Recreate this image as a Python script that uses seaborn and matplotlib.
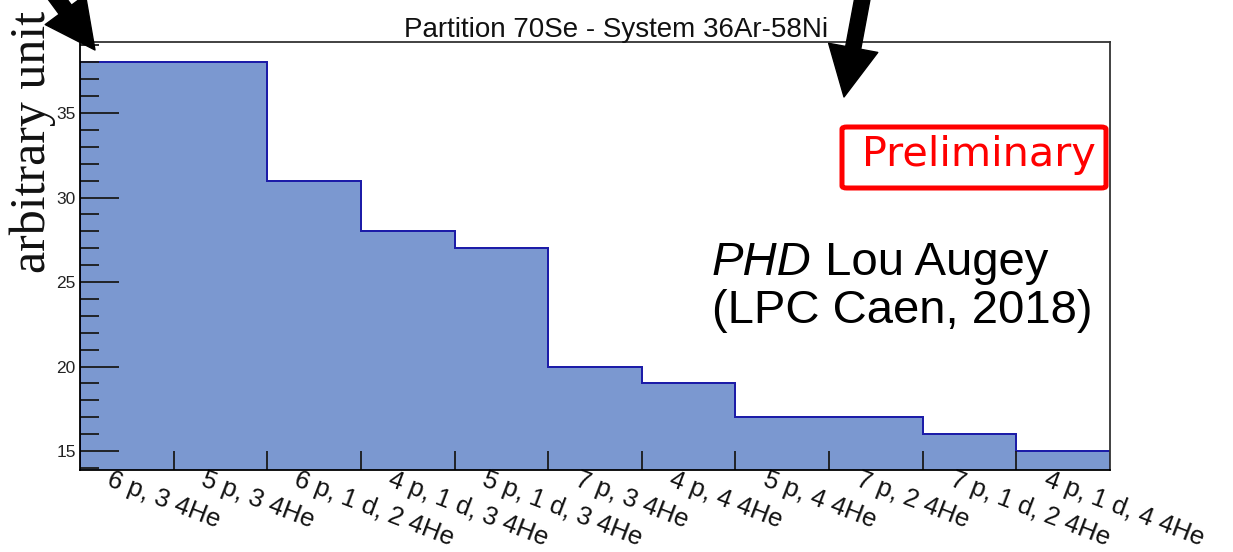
import numpy as np
import pandas as pd
import matplotlib
matplotlib.use("Agg")
import matplotlib.pyplot as plt
from matplotlib.patches import FancyBboxPatch
from matplotlib.ticker import MultipleLocator, FixedLocator, NullFormatter
import seaborn as sns

# Partition yields, one bin per partition
partitions = [
    "6 p, 3 4He", "5 p, 3 4He", "6 p, 1 d, 2 4He", "4 p, 1 d, 3 4He",
    "5 p, 1 d, 3 4He", "7 p, 3 4He", "4 p, 4 4He", "5 p, 4 4He",
    "7 p, 2 4He", "7 p, 1 d, 2 4He", "4 p, 1 d, 4 4He",
]
counts = [38, 38, 31, 28, 27, 20, 19, 17, 17, 16, 15]

title = "Partition 70Se - System 36Ar-58Ni"
ylabel = "arbitrary unit"

W, H = 1233, 552
sns.set_theme(style="ticks")
plt.rcParams["font.family"] = ["Liberation Sans", "DejaVu Sans"]

fig = plt.figure(figsize=(W / 100, H / 100), dpi=100)
fig.patch.set_facecolor("white")
L, R, T, B = 80, 1110, 42, 470
ax = fig.add_axes([L / W, 1 - B / H, (R - L) / W, (B - T) / H])
ax.set_facecolor("white")
ax.set_axisbelow(False)

n = len(partitions)
ymin, ymax = 13.88, 39.2
df = pd.DataFrame({"bin": np.arange(n) + 0.5, "count": counts})
edges = np.arange(n + 1)
sns.histplot(data=df, x="bin", weights="count", binwidth=1, binrange=(0, n),
             element="step", fill=True, color="#7b98d0", alpha=1.0,
             edgecolor="#1c1ca8", linewidth=1.4, ax=ax, legend=False)
# step outline on top of the fill
ax.stairs(counts, edges, color="#1c1ca8", linewidth=1.4, zorder=2)

ax.set_xlim(0, n)
ax.set_ylim(ymin, ymax)
ax.set_xlabel("")
ax.set_ylabel("")

for s in ax.spines.values():
    s.set_visible(True)
    s.set_color("black")
    s.set_linewidth(1.3)
    s.set_zorder(5)
ax.spines["top"].set_color("#333333")
ax.spines["right"].set_color("#333333")

# y ticks: inward, ROOT style
ax.yaxis.set_major_locator(MultipleLocator(5))
ax.yaxis.set_minor_locator(MultipleLocator(1))
ax.tick_params(axis="y", which="major", direction="in", length=28, width=1.3,
               color="#1a1a1a", labelsize=12.5, labelcolor="#222222", pad=3)
ax.tick_params(axis="y", which="minor", direction="in", length=14, width=1.3,
               color="#1a1a1a")
ax.tick_params(axis="y", which="both", right=False)

# x ticks at the bin edges, labels drawn separately
ax.xaxis.set_major_locator(FixedLocator(edges[1:-1]))
ax.xaxis.set_major_formatter(NullFormatter())
ax.tick_params(axis="x", which="major", direction="in", length=14, width=1.3,
               color="#1a1a1a", top=False)
for i, lab in enumerate(partitions):
    ax.text(i + 0.35, ymin + 0.15, lab, rotation=-21, rotation_mode="anchor",
            ha="left", va="top", fontsize=18.5, color="#111111", clip_on=False)

fig.text(616 / W, 1 - 37 / H, title, ha="center", va="baseline",
         fontsize=20, color="#111111")
fig.text(33 / W, 1 - 142 / H, ylabel, rotation=90, ha="center", va="center",
         fontsize=36, family="Liberation Serif", color="#111111")

# credit
t1 = fig.text(712 / W, 1 - 275 / H, "PHD", fontsize=34, style="italic",
              ha="left", va="baseline", color="black")
fig.canvas.draw()
ax.annotate(" Lou Augey", xy=(1, 0), xycoords=t1, ha="left", va="bottom",
            fontsize=34, color="black")
fig.text(712 / W, 1 - 323 / H, "(LPC Caen, 2018)", fontsize=34,
         ha="left", va="baseline", color="black")

# preliminary stamp
box = FancyBboxPatch((842 / W, 1 - 188 / H), (1106 - 842) / W, (188 - 127) / H,
                     boxstyle="round,pad=0,rounding_size=0.004",
                     transform=fig.transFigure, fill=False, edgecolor="#ff0000",
                     linewidth=3.6, zorder=6)
fig.patches.append(box)
fig.text(862 / W, 1 - 166 / H, "Preliminary", fontsize=29.8,
         family="DejaVu Sans", color="#ff0000", ha="left", va="baseline",
         zorder=7)

# pointer arrows
arrow_kw = dict(arrowstyle="simple,head_length=3.6,head_width=3.6,tail_width=1.1",
                color="black", shrinkA=0, shrinkB=0, mutation_scale=10)
ax.annotate("", xy=(95, H - 50), xytext=(25, H + 45), xycoords="figure pixels",
            textcoords="figure pixels", arrowprops=arrow_kw,
            annotation_clip=False, zorder=8)
ax.annotate("", xy=(844, H - 97), xytext=(864, H + 10), xycoords="figure pixels",
            textcoords="figure pixels", arrowprops=arrow_kw,
            annotation_clip=False, zorder=8)

fig.savefig("out.png", dpi=100, facecolor="white")
